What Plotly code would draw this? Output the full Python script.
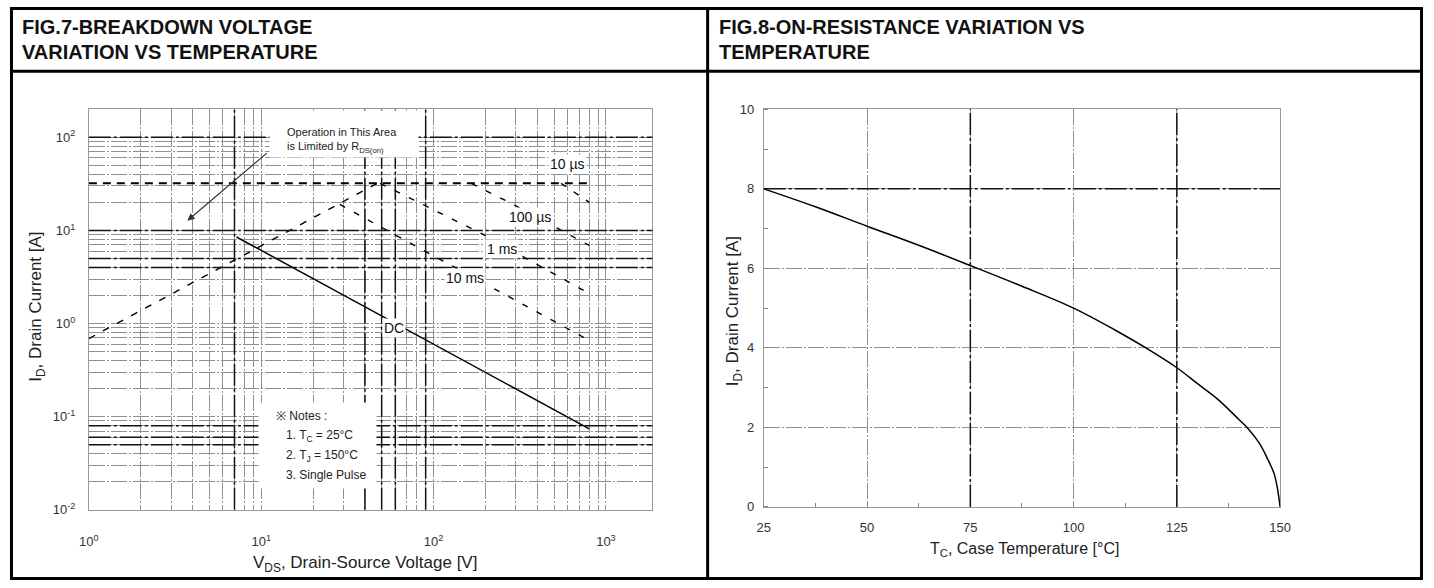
import numpy as np
import plotly.graph_objects as go

W, H = 1434, 588

# ---------------- data: FIG.7 (safe operating area, log-log) ----------------
rds_v = [1, 47]
rds_i = [0.69, 32]
idm_v = [1, 800]
idm_i = [32, 32]
us10_v = [550, 695, 800]
us10_i = [32, 24, 20]
us100_v = [166, 295, 800]
us100_i = [32, 18.7, 6.9]
ms1_v = [49, 193, 800]
ms1_i = [32, 9.1, 2.1]
ms10_v = [28.6, 84, 800]
ms10_i = [19, 6.35, 0.66]
dc_v = [7.2, 800]
dc_i = [8.5, 0.074]

x_tick_vals = [1, 10, 100, 1000]
x_tick_text = ["10<sup>0</sup>", "10<sup>1</sup>", "10<sup>2</sup>", "10<sup>3</sup>"]
y_tick_vals = [0.01, 0.1, 1, 10, 100]
y_tick_text = ["10<sup>-2</sup>", "10<sup>-1</sup>", "10<sup>0</sup>", "10<sup>1</sup>", "10<sup>2</sup>"]
dark_h_left = [100, 10, 5, 4, 0.08, 0.06, 0.05]
dark_v_left = [7, 40, 50, 60, 90]

# ---------------- data: FIG.8 (drain current vs case temperature) ----------------
tc = [25, 37.5, 50, 62.5, 75, 87.5, 100, 110, 117.5, 125, 130, 135, 140, 142, 145, 147, 148.5, 149.3, 150]
id_a = [8.0, 7.55, 7.06, 6.58, 6.07, 5.55, 5.0, 4.45, 4.0, 3.5, 3.1, 2.7, 2.2, 2.0, 1.6, 1.2, 0.85, 0.5, 0.0]
tc_ticks = [25, 50, 75, 100, 125, 150]
id_ticks = [0, 2, 4, 6, 8, 10]
dark_v_right = [75, 125]
dark_h_right = [8]

FONT = "Liberation Sans, Arial, sans-serif"
TXT = "#222222"

def px_x(p):
    return p / W

def px_y(p):
    return 1 - p / H

# plot areas (pixels)
L_X0, L_X1, L_Y0, L_Y1 = 80, 652, 105, 516
R_X0, R_X1, R_Y0, R_Y1 = 765, 1289, 105, 513
DIV_X = 708
HEAD_Y = 66
X_MAX_LOG = 3.27

fig = go.Figure()

for vx, iy, dsh, wd in [
    (rds_v, rds_i, "7px,9px", 1.4),
    (idm_v, idm_i, "8px,6px", 2.0),
    (us10_v, us10_i, "6px,9px", 1.4),
    (us100_v, us100_i, "6px,10px", 1.4),
    (ms1_v, ms1_i, "6px,10px", 1.4),
    (ms10_v, ms10_i, "6px,10px", 1.4),
    (dc_v, dc_i, "solid", 1.5),
]:
    fig.add_trace(go.Scatter(x=vx, y=iy, mode="lines", xaxis="x", yaxis="y",
                             line=dict(color="black", width=wd, dash=dsh),
                             showlegend=False, hoverinfo="skip"))

fig.add_trace(go.Scatter(x=tc, y=id_a, mode="lines", xaxis="x2", yaxis="y2",
                         line=dict(color="black", width=1.5, shape="spline"),
                         showlegend=False, hoverinfo="skip"))

minor_log_x = [k * 10 ** e for e in range(0, 4) for k in range(2, 10)]
minor_log_y = [k * 10.0 ** e for e in range(-2, 3) for k in range(2, 10)]

GRID = "#8f8f8f"
GDASH = "16px,2px,2px,2px"

fig.update_layout(
    width=W, height=H,
    margin=dict(l=0, r=0, t=0, b=0),
    paper_bgcolor="white", plot_bgcolor="white",
    font=dict(family=FONT, color=TXT, size=13),
    xaxis=dict(type="log", range=[0, X_MAX_LOG],
               domain=[px_x(L_X0), px_x(L_X1)], anchor="y",
               tickvals=x_tick_vals, ticktext=x_tick_text, ticks="",
               ticklabelstandoff=20,
               showgrid=True, gridcolor=GRID, gridwidth=1, griddash=GDASH,
               minor=dict(tickvals=minor_log_x, showgrid=True, gridcolor=GRID,
                          griddash=GDASH, gridwidth=1, ticks=""),
               showline=True, linecolor="#999", mirror=True, zeroline=False,
               tickfont=dict(size=13, color="#333")),
    yaxis=dict(type="log", range=[-2, 2.3],
               domain=[px_y(L_Y1), px_y(L_Y0)], anchor="x",
               tickvals=y_tick_vals, ticktext=y_tick_text, ticks="",
               ticklabelstandoff=10,
               showgrid=True, gridcolor=GRID, gridwidth=1, griddash=GDASH,
               minor=dict(tickvals=minor_log_y, showgrid=True, gridcolor=GRID,
                          griddash=GDASH, gridwidth=1, ticks=""),
               showline=True, linecolor="#999", mirror=True, zeroline=False,
               tickfont=dict(size=13, color="#333")),
    xaxis2=dict(range=[25, 150], domain=[px_x(R_X0), px_x(R_X1)], anchor="y2",
                tickvals=tc_ticks, ticks="", ticklabelstandoff=8,
                showgrid=True, gridcolor=GRID, griddash=GDASH, gridwidth=1,
                minor=dict(dtick=12.5, tick0=25, ticks="inside", ticklen=4,
                           tickcolor="#888", showgrid=False),
                showline=True, linecolor="#999", mirror=True, zeroline=False,
                tickfont=dict(size=13, color="#333")),
    yaxis2=dict(range=[0, 10], domain=[px_y(R_Y1), px_y(R_Y0)], anchor="x2",
                tickvals=id_ticks, ticks="", ticklabelstandoff=6,
                showgrid=True, gridcolor=GRID, griddash=GDASH, gridwidth=1,
                minor=dict(dtick=1, tick0=0, ticks="inside", ticklen=4,
                           tickcolor="#888", showgrid=False),
                showline=True, linecolor="#999", mirror=True, zeroline=False,
                tickfont=dict(size=13, color="#333")),
)

DARK = dict(color="#111", width=1.5, dash="22px,3px,3px,3px")
shapes = []
for v in dark_h_left:
    shapes.append(dict(type="line", xref="x domain", yref="y", x0=0, x1=1, y0=v, y1=v,
                       line=DARK, layer="above"))
for v in dark_v_left:
    shapes.append(dict(type="line", xref="x", yref="y domain", x0=v, x1=v, y0=0, y1=1,
                       line=DARK, layer="above"))
for v in dark_v_right:
    shapes.append(dict(type="line", xref="x2", yref="y2 domain", x0=v, x1=v, y0=0, y1=1,
                       line=DARK, layer="above"))
for v in dark_h_right:
    shapes.append(dict(type="line", xref="x2 domain", yref="y2", x0=0, x1=1, y0=v, y1=v,
                       line=DARK, layer="above"))
# table frame
shapes.append(dict(type="rect", xref="paper", yref="paper",
                   x0=px_x(1.5), x1=px_x(W - 1.5), y0=px_y(H - 1.5), y1=px_y(1.5),
                   line=dict(color="black", width=3), layer="above"))
shapes.append(dict(type="line", xref="paper", yref="paper",
                   x0=0, x1=1, y0=px_y(HEAD_Y), y1=px_y(HEAD_Y),
                   line=dict(color="black", width=3), layer="above"))
shapes.append(dict(type="line", xref="paper", yref="paper",
                   x0=px_x(DIV_X), x1=px_x(DIV_X), y0=0, y1=1,
                   line=dict(color="black", width=3), layer="above"))
fig.update_layout(shapes=shapes)

ann = []
# headers
for txt, xp, yp in [
    ("FIG.7-BREAKDOWN VOLTAGE", 10, 21),
    ("VARIATION VS TEMPERATURE", 10, 46),
    ("FIG.8-ON-RESISTANCE VARIATION VS", DIV_X + 10, 21),
    ("TEMPERATURE", DIV_X + 10, 46),
]:
    ann.append(dict(text="<b>" + txt + "</b>", xref="paper", yref="paper",
                    x=px_x(xp), y=px_y(yp), xanchor="left", yanchor="middle",
                    showarrow=False, font=dict(size=20, color="#111", family=FONT)))

# axis titles
TS = 17
ann.append(dict(text="I<sub>D</sub>, Drain Current [A]", xref="paper", yref="paper",
                x=px_x(28), y=px_y(308), xanchor="center", yanchor="middle",
                textangle=-90, showarrow=False, font=dict(size=TS, color=TXT)))
ann.append(dict(text="V<sub>DS</sub>, Drain-Source Voltage [V]", xref="paper", yref="paper",
                x=px_x(360), y=px_y(572), xanchor="center", yanchor="middle",
                showarrow=False, font=dict(size=TS, color=TXT)))
ann.append(dict(text="I<sub>D</sub>, Drain Current [A]", xref="paper", yref="paper",
                x=px_x(735), y=px_y(312), xanchor="center", yanchor="middle",
                textangle=-90, showarrow=False, font=dict(size=TS, color=TXT)))
ann.append(dict(text="T<sub>C</sub>, Case Temperature [°C]", xref="paper", yref="paper",
                x=px_x(1030), y=px_y(557), xanchor="center", yanchor="middle",
                showarrow=False, font=dict(size=16, color=TXT)))

lg = np.log10
# white panel behind the R_DS(on) note (covers the grid like in the scan)
ann.append(dict(text="", xref="x", yref="y", x=lg(30.2), y=lg(108), showarrow=False,
                xanchor="center", yanchor="middle", width=146, height=44, bgcolor="white"))
# curve labels (data units)
label_pos = [("10 µs", 600, 52), ("100 µs", 363, 14), ("1 ms", 251, 6.3),
             ("10 ms", 152, 3.1), ("DC", 59, 0.89)]
for t, xv, yv in label_pos:
    ann.append(dict(text=t, xref="x", yref="y", x=lg(xv), y=lg(yv), showarrow=False,
                    xanchor="center", yanchor="middle",
                    bgcolor="white", borderpad=1, font=dict(size=14, color="#111")))

# R_DS(on) note with arrow
ann.append(dict(text="Operation in This Area<br>is Limited by R<sub>DS(on)</sub>",
                xref="x", yref="y", x=lg(29.4), y=lg(92), showarrow=False,
                xanchor="center", yanchor="middle", align="left",
                font=dict(size=11, color="#222")))
arrow_head = (3.73, 12.7)
arrow_tail = (11.0, 69.8)
ann.append(dict(text="", xref="x", yref="y", x=lg(arrow_head[0]), y=lg(arrow_head[1]),
                axref="x", ayref="y", ax=lg(arrow_tail[0]), ay=lg(arrow_tail[1]),
                showarrow=True, arrowhead=2, arrowsize=1.2, arrowwidth=1.2,
                arrowcolor="#333"))

# notes block
notes = [("※ Notes :", 11.9, 0.102), ("1. T<sub>C</sub> = 25°C", 13.5, 0.062),
         ("2. T<sub>J</sub> = 150°C", 13.5, 0.0374), ("3. Single Pulse", 13.5, 0.0237)]
ann.append(dict(text="", xref="x", yref="y", x=lg(21.2), y=lg(0.0487), showarrow=False,
                xanchor="center", yanchor="middle",
                width=115, height=83, bgcolor="white"))
for t, xv, yv in notes:
    ann.append(dict(text=t, xref="x", yref="y", x=lg(xv), y=lg(yv), xanchor="left",
                    yanchor="middle", showarrow=False, font=dict(size=12, color="#222")))

fig.update_layout(annotations=ann)
fig.write_html("out.html")
